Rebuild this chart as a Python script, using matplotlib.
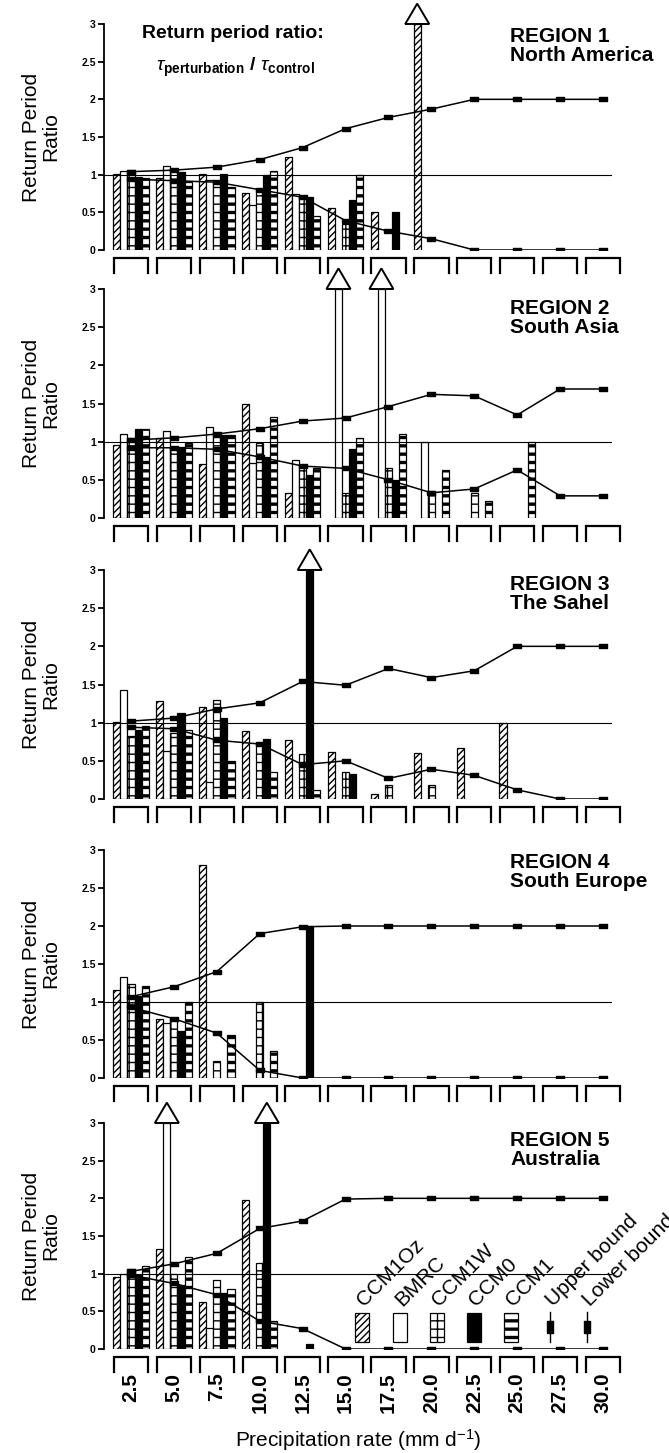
import numpy as np
import matplotlib.pyplot as plt
from matplotlib.patches import Polygon, Rectangle

plt.rcParams['font.family'] = ['Liberation Sans', 'DejaVu Sans']
plt.rcParams['mathtext.fontset'] = 'custom'
plt.rcParams['mathtext.rm'] = 'Liberation Sans'
plt.rcParams['mathtext.it'] = 'Liberation Sans:italic'
plt.rcParams['mathtext.bf'] = 'Liberation Sans:bold'
plt.rcParams['hatch.linewidth'] = 1.4

nan = np.nan
OFF = np.inf   # off the scale -> drawn as an arrow

rates = ['2.5', '5.0', '7.5', '10.0', '12.5', '15.0', '17.5', '20.0',
         '22.5', '25.0', '27.5', '30.0']
models = ['CCM1Oz', 'BMRC', 'CCM1W', 'CCM0', 'CCM1']
regions = ['REGION 1\nNorth America', 'REGION 2\nSouth Asia',
           'REGION 3\nThe Sahel', 'REGION 4\nSouth Europe',
           'REGION 5\nAustralia']

# rows: CCM1Oz, BMRC, CCM1W, CCM0, CCM1
r1_bars = [[1.01, 0.95, 1.01, 0.76, 1.23, 0.56, 0.51, OFF, nan, nan, nan, nan],
           [1.05, 1.12, 0.93, 0.60, 0.74, nan, nan, nan, nan, nan, nan, nan],
           [1.06, 1.07, 0.92, 0.80, 0.70, 0.35, nan, nan, nan, nan, nan, nan],
           [0.97, 1.03, 1.01, 1.00, 0.70, 0.67, 0.51, nan, nan, nan, nan, nan],
           [0.96, 0.90, 0.83, 1.05, 0.45, 1.00, nan, nan, nan, nan, nan, nan]]
r1_upper = [1.04, 1.06, 1.10, 1.20, 1.36, 1.61, 1.76, 1.87, 2.0, 2.0, 2.0, 2.0]
r1_lower = [0.94, 0.92, 0.90, 0.80, 0.70, 0.39, 0.25, 0.15, 0.0, 0.0, 0.0, 0.0]

r2_bars = [[0.95, 1.05, 0.71, 1.50, 0.33, nan, nan, nan, nan, nan, nan, nan],
           [1.10, 1.14, 1.19, 0.72, 0.76, OFF, OFF, 1.00, nan, nan, nan, nan],
           [1.05, 0.93, 1.09, 0.98, 0.70, 0.33, 0.65, 0.35, 0.33, nan, nan, nan],
           [1.16, 0.93, 1.09, 0.80, 0.56, 0.90, 0.50, nan, nan, nan, nan, nan],
           [1.16, 0.98, 1.09, 1.32, 0.66, 1.05, 1.10, 0.63, 0.22, 1.00, nan, nan]]
r2_upper = [1.02, 1.05, 1.10, 1.17, 1.27, 1.31, 1.46, 1.62, 1.60, 1.35, 1.69, 1.69]
r2_lower = [0.92, 0.92, 0.90, 0.80, 0.68, 0.65, 0.50, 0.33, 0.38, 0.63, 0.29, 0.29]

r3_bars = [[1.01, 1.28, 1.21, 0.89, 0.77, 0.61, 0.07, 0.60, 0.67, 1.00, nan, nan],
           [1.43, 0.63, 0.22, nan, nan, nan, nan, nan, nan, nan, nan, nan],
           [0.82, 0.87, 1.30, 0.73, 0.59, 0.35, 0.18, 0.18, nan, nan, nan, nan],
           [0.90, 1.13, 1.06, 0.78, OFF, 0.33, nan, nan, nan, nan, nan, nan],
           [0.96, 0.91, 0.50, 0.35, 0.12, nan, nan, nan, nan, nan, nan, nan]]
r3_upper = [1.02, 1.06, 1.18, 1.26, 1.54, 1.49, 1.71, 1.59, 1.68, 2.0, 2.0, 2.0]
r3_lower = [0.94, 0.92, 0.77, 0.72, 0.45, 0.50, 0.27, 0.39, 0.31, 0.12, 0.0, 0.0]

r4_bars = [[1.16, 0.77, 2.80, nan, nan, nan, nan, nan, nan, nan, nan, nan],
           [1.33, 0.72, nan, nan, nan, nan, nan, nan, nan, nan, nan, nan],
           [1.24, 0.78, 0.23, 1.00, nan, nan, nan, nan, nan, nan, nan, nan],
           [1.08, 0.62, nan, nan, 2.00, nan, nan, nan, nan, nan, nan, nan],
           [1.21, 1.00, 0.56, 0.35, nan, nan, nan, nan, nan, nan, nan, nan]]
r4_upper = [1.07, 1.20, 1.40, 1.90, 1.99, 2.0, 2.0, 2.0, 2.0, 2.0, 2.0, 2.0]
r4_lower = [0.93, 0.78, 0.59, 0.10, 0.0, 0.0, 0.0, 0.0, 0.0, 0.0, 0.0, 0.0]

r5_bars = [[0.96, 1.33, 0.63, 1.98, nan, nan, nan, nan, nan, nan, nan, nan],
           [1.00, OFF, 0.28, nan, nan, nan, nan, nan, nan, nan, nan, nan],
           [1.06, 1.00, 0.91, 1.14, nan, nan, nan, nan, nan, nan, nan, nan],
           [0.98, 0.85, 0.74, OFF, 0.06, nan, nan, nan, nan, nan, nan, nan],
           [1.10, 1.22, 0.79, 0.37, nan, nan, nan, nan, nan, nan, nan, nan]]
r5_upper = [1.03, 1.13, 1.27, 1.60, 1.70, 1.99, 2.0, 2.0, 2.0, 2.0, 2.0, 2.0]
r5_lower = [0.98, 0.87, 0.72, 0.37, 0.27, 0.0, 0.0, 0.0, 0.0, 0.0, 0.0, 0.0]

all_bars = [r1_bars, r2_bars, r3_bars, r4_bars, r5_bars]
all_upper = [r1_upper, r2_upper, r3_upper, r4_upper, r5_upper]
all_lower = [r1_lower, r2_lower, r3_lower, r4_lower, r5_lower]

# look of each model's bars
styles = {'CCM1Oz': dict(facecolor='white', hatch='/////', hlw=1.0),
          'BMRC': dict(facecolor='white', hatch=None, hlw=1.0),
          'CCM1W': dict(facecolor='white', hatch='++', hlw=1.0),
          'CCM0': dict(facecolor='black', hatch=None, hlw=1.0),
          'CCM1': dict(facecolor='white', hatch='--', hlw=2.4)}

W, H = 669, 1453
zeros = [250, 518, 799, 1078, 1349]   # pixel row of y=0 in each panel
tops = [24, 289, 570, 850, 1123]      # pixel row of y=3
left_px, right_px = 104, 612
title_dy = [0.985, 0.955, 0.98, 0.985, 0.965]

bw = 0.165
x = np.arange(len(rates))
dash = [(-1, -0.45), (1, -0.45), (1, 0.45), (-1, 0.45), (-1, -0.45)]


def style_patch(p, st):
    p.set_edgecolor('black')
    p.set_linewidth(0.9)
    if st['hatch']:
        p.set_hatch(st['hatch'])
        if hasattr(p, 'set_hatch_linewidth'):
            p.set_hatch_linewidth(st['hlw'])


fig = plt.figure(figsize=(W / 100, H / 100), dpi=100)
axes = []
for i in range(5):
    ax = fig.add_axes([left_px / W, 1 - zeros[i] / H,
                       (right_px - left_px) / W, (zeros[i] - tops[i]) / H])
    axes.append(ax)
    ax.set_xlim(-0.63, 11.21)
    ax.set_ylim(0, 3)

    for k, m in enumerate(models):
        vals = np.array(all_bars[i][k], dtype=float)
        ok = ~np.isnan(vals)
        xs = x[ok] + (k - 2) * bw
        hs = np.minimum(vals[ok], 3.0)
        bars = ax.bar(xs, hs, width=bw, facecolor=styles[m]['facecolor'],
                      zorder=2)
        for b in bars:
            style_patch(b, styles[m])
        for xc, v in zip(xs, vals[ok]):
            if v > 3:
                tri = Polygon([(xc - 0.28, 3.0), (xc + 0.28, 3.0), (xc, 3.27)],
                              closed=True, facecolor='white', edgecolor='black',
                              linewidth=1.4, clip_on=False, zorder=4)
                ax.add_patch(tri)

    ax.axhline(1, color='black', lw=0.8, zorder=3)
    for series in (all_upper[i], all_lower[i]):
        ax.plot(x, series, color='black', lw=1.1, marker=dash, ms=6,
                mfc='black', mec='black', zorder=3)

    # brackets under each precipitation class
    for c in x:
        ax.plot([c - 0.4, c - 0.4, c + 0.4, c + 0.4],
                [-0.30, -0.11, -0.11, -0.30], color='black', lw=1.6,
                clip_on=False, solid_joinstyle='miter')

    for s in ['top', 'right', 'bottom']:
        ax.spines[s].set_visible(False)
    ax.spines['left'].set_bounds(0, 3)
    ax.spines['left'].set_linewidth(1.3)
    ax.set_yticks([0, 0.5, 1, 1.5, 2, 2.5, 3])
    ax.set_yticklabels(['0', '0.5', '1', '1.5', '2', '2.5', '3'],
                       fontweight='bold')
    ax.tick_params(axis='y', direction='out', length=4, width=1.3,
                   labelsize=7.5, pad=2)
    ax.set_xticks(x)
    if i == 4:
        ax.set_xticklabels(rates, rotation=90, fontweight='bold', fontsize=15)
        ax.tick_params(axis='x', length=0, pad=17)
    else:
        ax.set_xticklabels([])
        ax.tick_params(axis='x', length=0)

    ax.set_ylabel('Return Period\nRatio', fontsize=15, linespacing=1.0)
    ax.yaxis.set_label_coords(-0.087, 0.5)

    ax.text(0.80, title_dy[i], regions[i], transform=ax.transAxes,
            ha='left', va='top', fontsize=15, fontweight='bold',
            linespacing=1.0,
            family=['Liberation Sans Narrow', 'Liberation Sans'])

# heading in the first panel
axes[0].text(0.075, 0.938, 'Return period ratio:', transform=axes[0].transAxes,
             ha='left', va='baseline', fontsize=14, fontweight='bold',
             family=['Liberation Sans Narrow', 'Liberation Sans'])
axes[0].text(0.258, 0.81,
             r'$\tau_{\mathbf{perturbation}}$ $\mathbf{/}$ $\tau_{\mathbf{control}}$',
             transform=axes[0].transAxes, ha='center', va='center', fontsize=14)

# legend in the last panel
ax = axes[4]
lx = [0.508, 0.583, 0.656, 0.728, 0.801]
for k, m in enumerate(models):
    r = Rectangle((lx[k] - 0.014, 0.031), 0.028, 0.128, transform=ax.transAxes,
                  facecolor=styles[m]['facecolor'], zorder=3)
    style_patch(r, styles[m])
    ax.add_patch(r)
    ax.text(lx[k] + 0.004, 0.185, m, transform=ax.transAxes, rotation=45,
            rotation_mode='anchor', ha='left', va='baseline', fontsize=15)
vmark = [(-0.5, -1), (0.5, -1), (0.5, 1), (-0.5, 1), (-0.5, -1)]
for bx, lab in zip([0.878, 0.951], ['Upper bound', 'Lower bound']):
    ax.plot([bx, bx], [0.031, 0.164], transform=ax.transAxes, color='black',
            lw=1.0, zorder=3)
    ax.plot([bx], [0.097], transform=ax.transAxes, marker=vmark, ms=8,
            color='black', zorder=3)
    ax.text(bx + 0.006, 0.185, lab, transform=ax.transAxes, rotation=45,
            rotation_mode='anchor', ha='left', va='baseline', fontsize=15)

fig.text(358 / W, 1 - 1440 / H, 'Precipitation rate (mm d$^{-1}$)',
         ha='center', va='center', fontsize=15)

fig.savefig('out.png', dpi=100)
